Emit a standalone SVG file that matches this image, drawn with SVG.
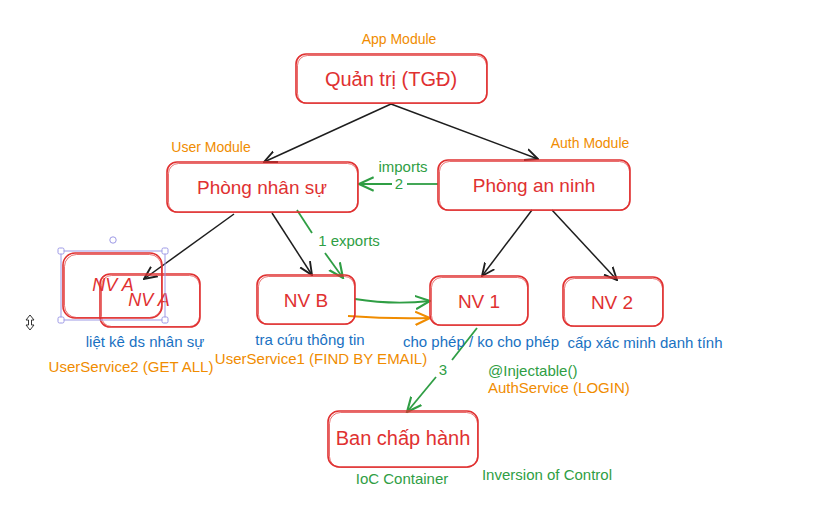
<svg xmlns="http://www.w3.org/2000/svg" width="825" height="523" viewBox="0 0 825 523">
<style>
.box{fill:none;stroke:#e03131;stroke-width:1.6;stroke-linejoin:round}
.box2{fill:none;stroke:#e03131;stroke-width:1;opacity:.7}
.nt{font-family:"Liberation Sans","DejaVu Sans",sans-serif;fill:#e03131;text-anchor:middle;dominant-baseline:central}
.t{font-family:"Liberation Sans","DejaVu Sans",sans-serif;font-size:15px}
.m{font-size:14px}
.or{fill:#f08c00}.bl{fill:#1971c2}.gr{fill:#2f9e44}
.k{stroke:#1e1e1e;stroke-width:1.5;fill:none}
.g{stroke:#2f9e44;stroke-width:1.8;fill:none}
.o{stroke:#f08c00;stroke-width:1.8;fill:none}
.sel{fill:none;stroke:#9d99e6;stroke-width:1}
.hd{fill:#fff;stroke:#9d99e6;stroke-width:1}
</style>
<defs>
<marker id="ak" viewBox="0 0 12 12" refX="11" refY="6" markerWidth="14" markerHeight="14" markerUnits="userSpaceOnUse" orient="auto"><path d="M0,1 L11,6 L0,11" fill="none" stroke="#1e1e1e" stroke-width="1.6"/></marker>
<marker id="ag" viewBox="0 0 12 12" refX="11" refY="6" markerWidth="16" markerHeight="16" markerUnits="userSpaceOnUse" orient="auto"><path d="M0,1 L11,6 L0,11" fill="none" stroke="#2f9e44" stroke-width="1.6"/></marker>
<marker id="ao" viewBox="0 0 12 12" refX="11" refY="6" markerWidth="16" markerHeight="16" markerUnits="userSpaceOnUse" orient="auto"><path d="M0,1 L11,6 L0,11" fill="none" stroke="#f08c00" stroke-width="1.6"/></marker>
</defs>
<rect width="825" height="523" fill="#fff"/>

<g id="connectors">
<path class="k" d="M391,104 L264,162" marker-end="url(#ak)"/>
<path class="k" d="M391,104 L538,159" marker-end="url(#ak)"/>
<path class="k" d="M234,214 L144,279" marker-end="url(#ak)"/>
<path class="k" d="M272,213 L312,275" marker-end="url(#ak)"/>
<path class="k" d="M532,210 L482,276" marker-end="url(#ak)"/>
<path class="k" d="M552,210 L617,280" marker-end="url(#ak)"/>
<path class="g" d="M438,184 L407,184"/>
<path class="g" d="M392,184 L359,184" marker-end="url(#ag)"/>
<path class="g" d="M297,210 L312,233"/>
<path class="g" d="M325,253 L343,278" marker-end="url(#ag)"/>
<path class="g" d="M355,299 Q392,305 430,301" marker-end="url(#ag)"/>
<path class="o" d="M348,316 Q390,319 430,318" marker-end="url(#ao)"/>
<path class="g" d="M477,328 L452,360"/>
<path class="g" d="M436,377 L407,412" marker-end="url(#ag)"/>
</g>

<g id="labels">
<text class="t m or" x="399" y="44" text-anchor="middle">App Module</text>
<text class="t m or" x="211" y="152" text-anchor="middle">User Module</text>
<text class="t m or" x="590" y="148" text-anchor="middle">Auth Module</text>
<text class="t gr" x="403" y="172" text-anchor="middle">imports</text>
<text class="t gr" x="399" y="189" text-anchor="middle">2</text>
<text class="t gr" x="349" y="246" text-anchor="middle">1 exports</text>
<text class="t gr" x="443" y="375" text-anchor="middle">3</text>
<text class="t bl" x="145" y="347" text-anchor="middle">liệt kê ds nhân sự</text>
<text class="t or" x="131" y="372" text-anchor="middle">UserService2 (GET ALL)</text>
<text class="t bl" x="310" y="345" text-anchor="middle">tra cứu thông tin</text>
<text class="t or" x="321" y="364" text-anchor="middle">UserService1 (FIND BY EMAIL)</text>
<text class="t bl" x="481" y="347" text-anchor="middle">cho phép / ko cho phép</text>
<text class="t bl" x="645" y="348" text-anchor="middle">cấp xác minh danh tính</text>
<text class="t gr" x="488" y="376">@Injectable()</text>
<text class="t or" x="488" y="393">AuthService (LOGIN)</text>
<text class="t gr" x="402" y="484" text-anchor="middle">IoC Container</text>
<text class="t gr" x="547" y="480" text-anchor="middle">Inversion of Control</text>
</g>

<g id="node-quantri">
<rect class="box" x="296" y="54" width="191" height="49" rx="10"/>
<rect class="box2" x="297.5" y="55.5" width="189" height="48" rx="10"/>
<text class="nt" x="391" y="79" font-size="20">Quản trị (TGĐ)</text>
</g>
<g id="node-phongnhansu">
<rect class="box" x="167" y="162" width="191" height="50" rx="10"/>
<rect class="box2" x="168.5" y="163.5" width="189" height="49" rx="10"/>
<text class="nt" x="262" y="187" font-size="19">Phòng nhân sự</text>
</g>
<g id="node-phongan">
<rect class="box" x="438" y="160" width="192" height="50" rx="10"/>
<rect class="box2" x="439.5" y="161.5" width="190" height="49" rx="10"/>
<text class="nt" x="534" y="185" font-size="19">Phòng an ninh</text>
</g>
<g id="node-nva1">
<rect class="box" x="63" y="253" width="99" height="65" rx="12"/>
<rect class="box2" x="64.5" y="254.5" width="97" height="63" rx="12"/>
<text class="nt" x="113" y="285" font-size="18" font-style="italic">NV A</text>
</g>
<g id="node-nva2">
<rect class="box" x="100" y="274" width="100" height="53" rx="10"/>
<rect class="box2" x="101.5" y="275.5" width="98" height="51" rx="10"/>
<text class="nt" x="149" y="300" font-size="18" font-style="italic">NV A</text>
</g>
<g id="selection">
<rect class="sel" x="61" y="251" width="104" height="69"/>
<rect class="hd" x="58" y="248" width="6" height="6" rx="1.5"/>
<rect class="hd" x="162" y="248" width="6" height="6" rx="1.5"/>
<rect class="hd" x="58" y="317" width="6" height="6" rx="1.5"/>
<rect class="hd" x="162" y="317" width="6" height="6" rx="1.5"/>
<circle class="hd" cx="113" cy="240" r="3.2"/>
</g>
<g id="cursor">
<path d="M30,315 L34,320 L31.5,320 L31.5,325 L34,325 L30,330 L26,325 L28.5,325 L28.5,320 L26,320 Z" fill="#fff" stroke="#333" stroke-width="1"/>
</g>
<g id="node-nvb">
<rect class="box" x="257" y="275" width="98" height="49" rx="10"/>
<rect class="box2" x="258.5" y="276.5" width="96" height="48" rx="10"/>
<text class="nt" x="306" y="300" font-size="19">NV B</text>
</g>
<g id="node-nv1">
<rect class="box" x="430" y="276" width="98" height="49" rx="10"/>
<rect class="box2" x="431.5" y="277.5" width="96" height="48" rx="10"/>
<text class="nt" x="479" y="301" font-size="19">NV 1</text>
</g>
<g id="node-nv2">
<rect class="box" x="563" y="277" width="100" height="49" rx="10"/>
<rect class="box2" x="564.5" y="278.5" width="98" height="48" rx="10"/>
<text class="nt" x="612" y="302" font-size="19">NV 2</text>
</g>
<g id="node-banchaphanh">
<rect class="box" x="328" y="411" width="150" height="56" rx="11"/>
<rect class="box2" x="329.5" y="412.5" width="148" height="55" rx="11"/>
<text class="nt" x="403" y="438" font-size="20">Ban chấp hành</text>
</g>
</svg>
